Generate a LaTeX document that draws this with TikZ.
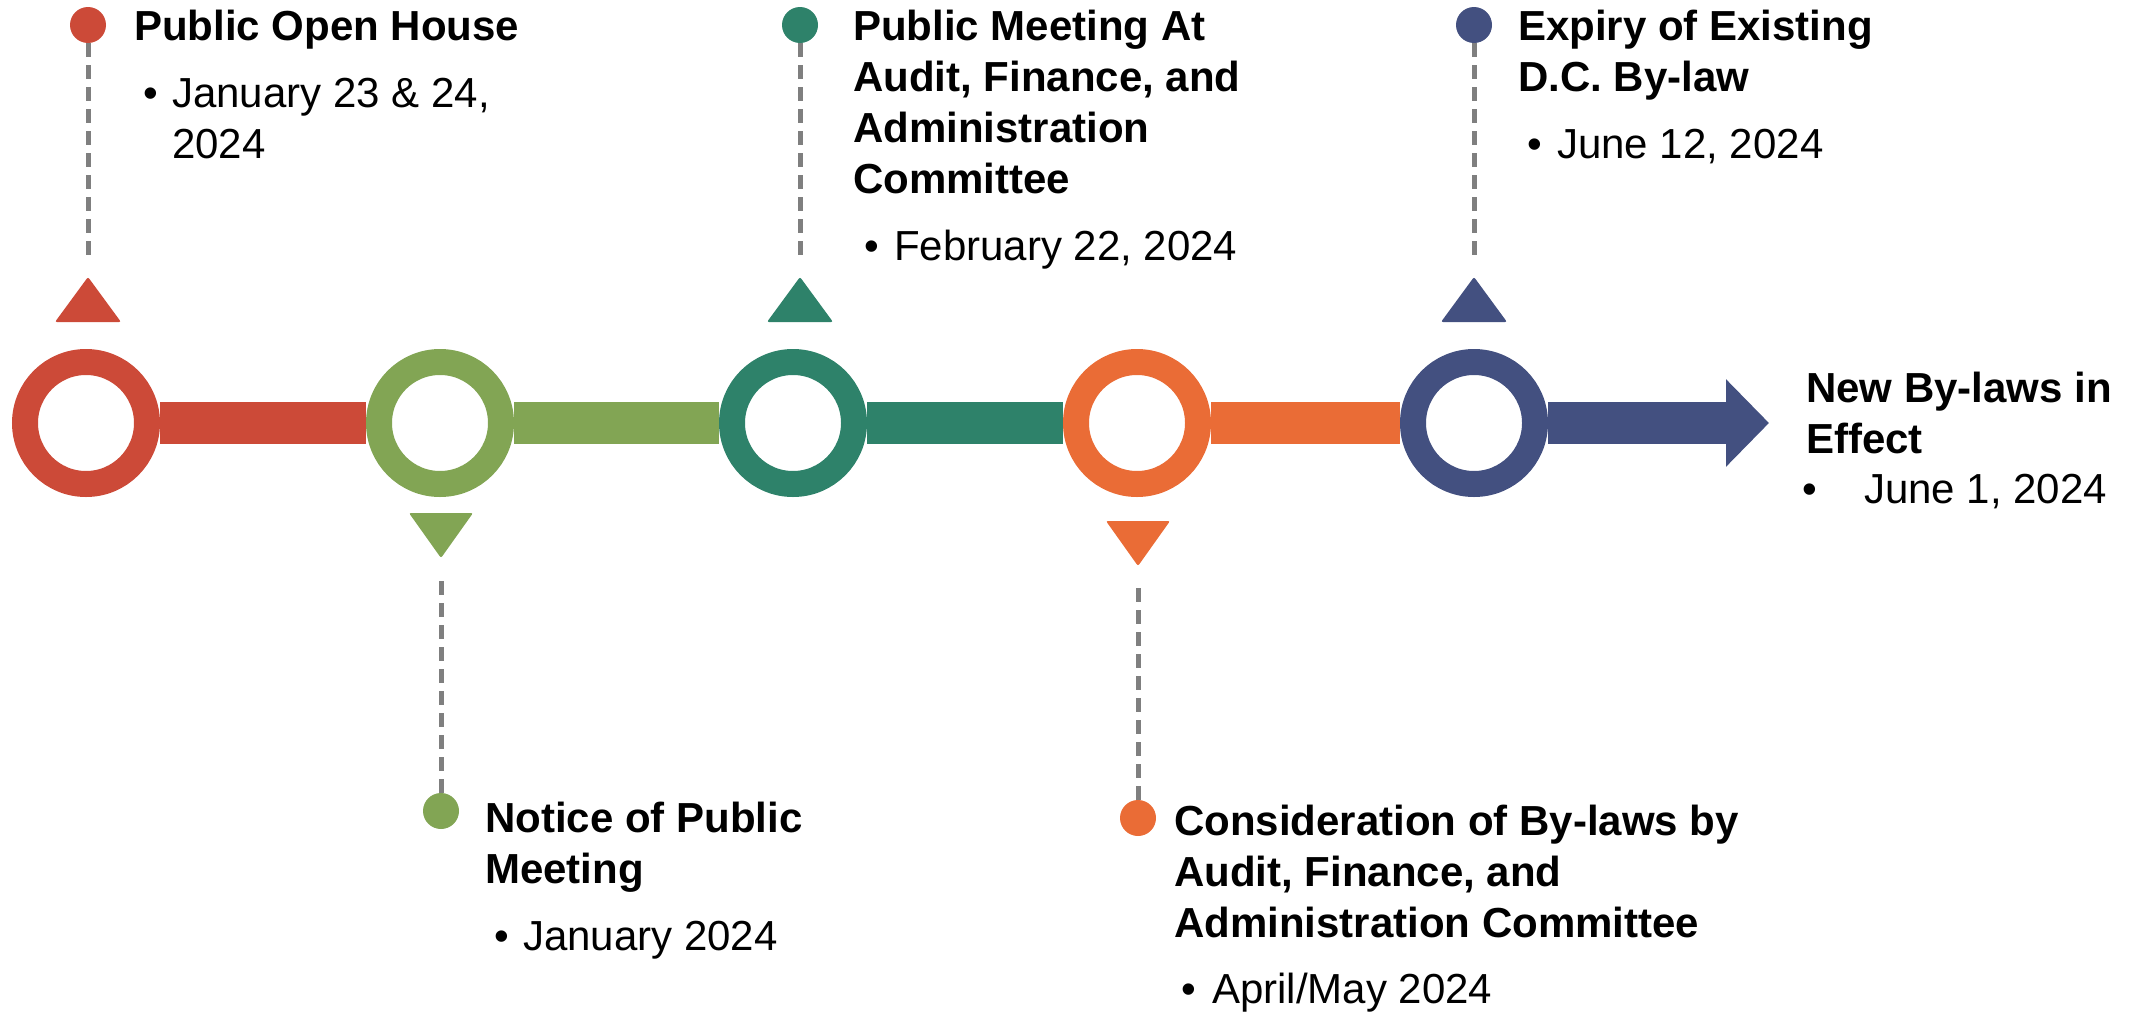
\documentclass[tikz,border=0pt]{standalone}
\usepackage{fontspec}
\setmainfont{Liberation Sans}
\usetikzlibrary{arrows.meta,backgrounds}
\definecolor{cred}{HTML}{CC4A38}
\definecolor{cgreen}{HTML}{82A554}
\definecolor{cteal}{HTML}{2E826A}
\definecolor{corange}{HTML}{EA6C36}
\definecolor{cnavy}{HTML}{435080}
\definecolor{cgray}{HTML}{7F7F7F}

\begin{document}
\begin{tikzpicture}[x=1pt,y=-1pt,
	ring/.style={circle,draw,line width=26pt,minimum size=122pt,inner sep=0pt,fill=white},
	dot/.style={circle,minimum size=36pt,inner sep=0pt},
	bar/.style={line width=42pt},
	lead/.style={draw=cgray,line width=5pt,dash pattern=on 14pt off 8pt},
	head/.style={anchor=base west,inner sep=0pt,align=left,font=\bfseries\fontsize{42}{51}\selectfont},
	txt/.style={anchor=base west,inner sep=0pt,align=left,font=\fontsize{42}{51}\selectfont}]
	\useasboundingbox (0,0) rectangle (2144,1012);
	% timeline
	\node[ring,draw=cred] (r1) at (86,423) {};
	\node[ring,draw=cgreen] (r2) at (440,423) {};
	\node[ring,draw=cteal] (r3) at (793,423) {};
	\node[ring,draw=corange] (r4) at (1137,423) {};
	\node[ring,draw=cnavy] (r5) at (1474,423) {};
	\coordinate (tip) at (1769,423);
	\begin{scope}[on background layer]
		\draw[bar,cred] (r1.east) -- (r2.west);
		\draw[bar,cgreen] (r2.east) -- (r3.west);
		\draw[bar,cteal] (r3.east) -- (r4.west);
		\draw[bar,corange] (r4.east) -- (r5.west);
		\draw[bar,cnavy,-{Triangle[length=43pt,width=85pt]}] (r5.east) -- (tip);
	\end{scope}
	% markers above
	\foreach \x/\c in {88/cred,800/cteal,1474/cnavy}
		\fill[\c,rounded corners=2pt] (\x-33,322) -- (\x,277) -- (\x+33,322) -- cycle;
	% markers below
	\foreach \x/\y/\c in {441/513/cgreen,1138/521/corange}
		\fill[\c,rounded corners=2pt] (\x-32,\y) -- (\x+32,\y) -- (\x,\y+45) -- cycle;
	% dots and leaders
	\node[dot,fill=cred] (d1) at (88,25) {};
	\node[dot,fill=cgreen] (d2) at (441,811) {};
	\node[dot,fill=cteal] (d3) at (800,25) {};
	\node[dot,fill=corange] (d4) at (1138,818) {};
	\node[dot,fill=cnavy] (d5) at (1474,25) {};
	\coordinate (t1) at (88,258);
	\coordinate (t2) at (441,577);
	\coordinate (t3) at (800,258);
	\coordinate (t4) at (1138,583);
	\coordinate (t5) at (1474,258);
	\foreach \i in {1,...,5}
		\draw[lead] (d\i) -- (t\i);
	% labels (base = last line)
	\node[head] (h1) at (134,40) {Public Open House};
	\node[txt] (b1) at (143,107) {•};
	\node[txt] (w1) at (172,158) {January 23 \& 24,\\2024};
	\node[head] (h2) at (485,883) {Notice of Public\\Meeting};
	\node[txt] (b2) at (494,950) {•};
	\node[txt] (w2) at (523,950) {January 2024};
	\node[head] (h3) at (853,193) {Public Meeting At\\Audit, Finance, and\\Administration\\Committee};
	\node[txt] (b3) at (864,260) {•};
	\node[txt] (w3) at (894,260) {February 22, 2024};
	\node[head] (h4) at (1174,937) {Consideration of By-laws by\\Audit, Finance, and\\Administration Committee};
	\node[txt] (b4) at (1181,1003) {•};
	\node[txt] (w4) at (1212,1003) {April/May 2024};
	\node[head] (h5) at (1518,91) {Expiry of Existing\\D.C. By-law};
	\node[txt] (b5) at (1527,158) {•};
	\node[txt] (w5) at (1557,158) {June 12, 2024};
	\node[head] (h6) at (1806,453) {New By-laws in\\Effect};
	\node[txt] (b6) at (1802,503) {•};
	\node[txt] (w6) at (1864,503) {June 1, 2024};
\end{tikzpicture}
\end{document}
